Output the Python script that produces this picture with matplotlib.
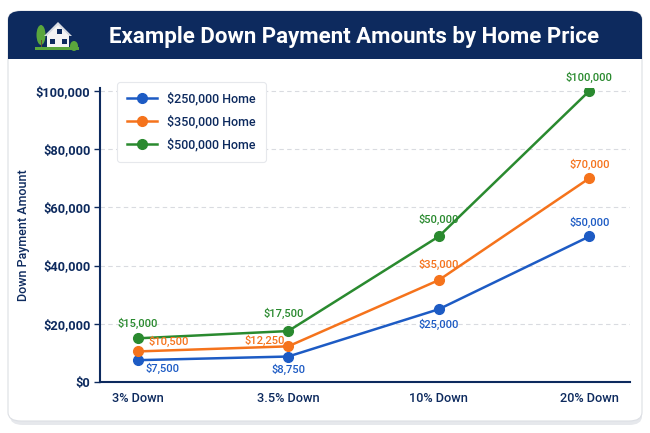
import matplotlib.pyplot as plt
from matplotlib.patches import FancyBboxPatch, Rectangle, Polygon, Ellipse

categories = ["3% Down", "3.5% Down", "10% Down", "20% Down"]
series_names = ["$250,000 Home", "$350,000 Home", "$500,000 Home"]
home_250 = [7500, 8750, 25000, 50000]
home_350 = [10500, 12250, 35000, 70000]
home_500 = [15000, 17500, 50000, 100000]
y_ticks = [0, 20000, 40000, 60000, 80000, 100000]

navy = "#0d2a5e"
blue = "#1d5bc4"
orange = "#f5731c"
green = "#2a8a2f"
plt.rcParams['font.family'] = ['Roboto', 'DejaVu Sans']

W, H = 650, 433
fig = plt.figure(figsize=(W / 100, H / 100), dpi=100)


def fx(px):
    return px / W


def fy(py):
    return 1 - py / H


tf = fig.transFigure
# card with shadow and header
fig.patches.append(FancyBboxPatch((fx(10), fy(425)), fx(632), fy(13) - fy(425),
                                  boxstyle="round,pad=0,rounding_size=0.02",
                                  transform=tf, fc="#e6e8ec", ec="none", zorder=0))
fig.patches.append(FancyBboxPatch((fx(8), fy(421)), fx(634), fy(11) - fy(421),
                                  boxstyle="round,pad=0,rounding_size=0.02",
                                  transform=tf, fc="white", ec="#dcdfe4", lw=0.8, zorder=0))
fig.patches.append(FancyBboxPatch((fx(8), fy(59)), fx(634), fy(11) - fy(59),
                                  boxstyle="round,pad=0,rounding_size=0.02",
                                  transform=tf, fc=navy, ec="none", zorder=1))
fig.patches.append(Rectangle((fx(8), fy(59)), fx(634), fy(40) - fy(59),
                             transform=tf, fc=navy, ec="none", zorder=1))

# house icon
fig.patches.append(Ellipse((fx(41), fy(35)), fx(9), fy(25) - fy(45), transform=tf, fc="#5aa63c", ec="none", zorder=2))
fig.patches.append(Rectangle((fx(40.5), fy(48)), fx(1.5), fy(40) - fy(48), transform=tf, fc="#6b4e2e", ec="none", zorder=2))
fig.patches.append(Ellipse((fx(74), fy(46)), fx(8), fy(41) - fy(51), transform=tf, fc="#5aa63c", ec="none", zorder=2))
fig.patches.append(Polygon([(fx(47), fy(48)), (fx(47), fy(35)), (fx(58), fy(24)), (fx(69), fy(35)), (fx(69), fy(48))],
                           closed=True, transform=tf, fc="#f4f4f4", ec="none", zorder=3))
fig.patches.append(Polygon([(fx(44), fy(36)), (fx(58), fy(22)), (fx(72), fy(36)), (fx(69.5), fy(36)),
                            (fx(58), fy(25)), (fx(46.5), fy(36))],
                           closed=True, transform=tf, fc="#d8dce3", ec="none", zorder=3))
fig.patches.append(Rectangle((fx(35), fy(49.5)), fx(44), fy(47.5) - fy(49.5), transform=tf, fc="#5aa63c", ec="none", zorder=3))
for wx, wy in [(49.5, 39), (61.5, 39), (56.5, 29)]:
    fig.patches.append(Rectangle((fx(wx), fy(wy + 5)), fx(5), fy(wy) - fy(wy + 5), transform=tf, fc=navy, ec="none", zorder=4))

fig.text(fx(354), fy(37), "Example Down Payment Amounts by Home Price", color="white",
         fontsize=16, fontweight="bold", ha="center", va="center")

ax = fig.add_axes([fx(100), fy(382), fx(630) - fx(100), fy(88) - fy(382)])
ax.set_zorder(5)
ax.patch.set_alpha(0)
x = list(range(len(categories)))
ax.set_xlim(-0.25, 3.27)
ax.set_ylim(0, 101000)

colors = [blue, orange, green]
all_values = [home_250, home_350, home_500]
for vals, col, name in zip(all_values, colors, series_names):
    ax.plot(x, vals, color=col, lw=1.8, marker="o", markersize=7, label=name, zorder=3)

# value labels (offsets in points)
offsets = {
    0: [(18, -6), (0, -9), (0, -11), (0, 10)],
    1: [(22, 7), (-17, 4), (0, 11), (0, 10)],
    2: [(0, 11), (-3, 13), (0, 12), (0, 10)],
}
for i, (vals, col) in enumerate(zip(all_values, colors)):
    for j, v in enumerate(vals):
        dx, dy = offsets[i][j]
        ax.annotate(f"${v:,}", (x[j], v), xytext=(dx, dy), textcoords="offset points",
                    ha="center", va="center", color=col, fontsize=8, fontweight="medium", zorder=4)

ax.set_xticks(x)
ax.set_xticklabels(categories)
ax.set_yticks(y_ticks)
ax.set_yticklabels([f"${t:,}" for t in y_ticks])
ax.tick_params(axis="x", length=0, pad=7, labelsize=9.2, labelcolor=navy)
ax.tick_params(axis="y", length=4, width=1, color=navy, pad=3, labelsize=9.2, labelcolor=navy)
for lab in ax.get_yticklabels():
    lab.set_fontweight("bold")
for lab in ax.get_xticklabels():
    lab.set_fontweight("medium")
ax.grid(axis="y", color="#d9dbe0", ls=(0, (4, 3)), lw=0.8, zorder=0)
ax.spines["top"].set_visible(False)
ax.spines["right"].set_visible(False)
for s in ["left", "bottom"]:
    ax.spines[s].set_color(navy)
    ax.spines[s].set_linewidth(1.5)
ax.set_ylabel("Down Payment Amount", color=navy, fontsize=9, fontweight="medium")
ax.yaxis.set_label_coords(-(70 / 530), 0.5)

leg = ax.legend(loc="upper left", bbox_to_anchor=((117 - 100) / 530, 1.02), fontsize=9,
                frameon=True, fancybox=True, borderpad=0.8, labelspacing=0.75, handlelength=2.4,
                handletextpad=0.8, borderaxespad=0)
leg.get_frame().set_edgecolor("#e6e8ec")
leg.get_frame().set_linewidth(0.8)
leg.get_frame().set_facecolor("white")
leg.get_frame().set_alpha(1)
leg.set_zorder(6)
for t in leg.get_texts():
    t.set_color(navy)
    t.set_fontweight("medium")

fig.savefig("out.png", dpi=100)
